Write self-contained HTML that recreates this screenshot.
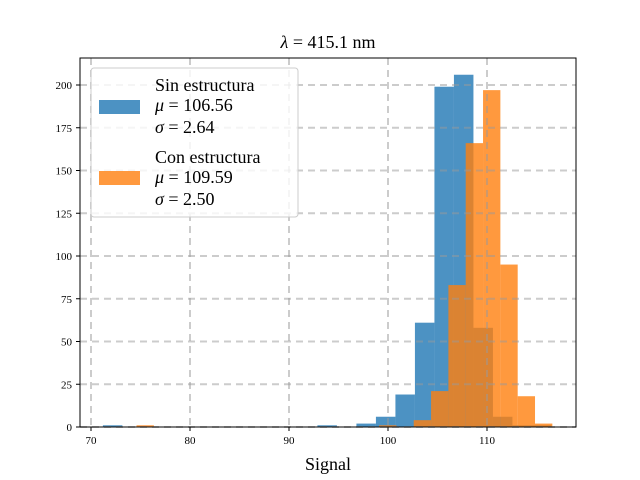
<!DOCTYPE html>
<html><head><meta charset="utf-8"><style>
body{margin:0;background:#fff}
svg{display:block;font-family:"Liberation Serif",serif}
</style></head><body>
<svg id="c" width="640" height="480"></svg>
<script>
const blueStart = 71.2, blueWidth = 1.97;
const blueCounts = [1,0,0,0,0,0,0,0,0,0,0,1,0,2,6,19,61,199,206,58,6,1,1];
const orangeStart = 74.6, orangeWidth = 1.75;
const orangeCounts = [1,0,0,0,0,0,0,0,0,0,0,0,0,0,1,0,4,21,83,166,197,95,18,2];
const xTicks = [70,80,90,100,110];
const yTicks = [0,25,50,75,100,125,150,175,200];
const L=80,R=576,T=58,B=427;
const X=v=>91+(v-70)*9.9;
const Y=v=>B-v*1.71;
const svg=document.getElementById('c');
const NS='http://www.w3.org/2000/svg';
function mk(t,a,p){const e=document.createElementNS(NS,t);for(const k in a)e.setAttribute(k,a[k]);(p||svg).appendChild(e);return e;}
function bars(start,w,counts,color,name){counts.forEach((c,i)=>{if(!c)return;const x0=X(start+i*w),x1=X(start+(i+1)*w);
const r=mk('rect',{x:x0,y:Y(c),width:x1-x0,height:B-Y(c),fill:color,'fill-opacity':0.8});
});}
bars(blueStart,blueWidth,blueCounts,'#1f77b4','bar-sin-estructura');
bars(orangeStart,orangeWidth,orangeCounts,'#ff7f0e','bar-con-estructura');
// grid on top
xTicks.forEach(v=>{const g=mk('line',{x1:X(v),x2:X(v),y1:T,y2:B,stroke:'#999','stroke-width':2,'stroke-dasharray':'7,5','stroke-opacity':0.5});
});
yTicks.forEach(v=>{const g=mk('line',{x1:L,x2:R,y1:Y(v),y2:Y(v),stroke:'#999','stroke-width':2,'stroke-dasharray':'7,5','stroke-opacity':0.5});
});
// axes
const ax=mk('rect',{x:L,y:T,width:R-L,height:B-T,fill:'none',stroke:'#000','stroke-width':1});

xTicks.forEach(v=>{mk('line',{x1:X(v),x2:X(v),y1:B,y2:B+4,stroke:'#000'});
const t=mk('text',{x:X(v),y:B+17,'text-anchor':'middle','font-size':11});t.textContent=v;
});
yTicks.forEach(v=>{mk('line',{x1:L-4,x2:L,y1:Y(v),y2:Y(v),stroke:'#000'});
const t=mk('text',{x:L-8,y:Y(v)+4,'text-anchor':'end','font-size':11});t.textContent=v;
});
</script>
<svg width="640" height="480" style="position:absolute;left:0;top:0;font-family:'Liberation Serif',serif">
<text x="328" y="48" text-anchor="middle" font-size="18"><tspan font-style="italic">λ</tspan> = 415.1 nm</text>
<text x="328" y="470" text-anchor="middle" font-size="18">Signal</text>
<g>
<rect x="91" y="68" width="207" height="149" rx="3" fill="#fff" fill-opacity="0.8" stroke="#ccc"/>
<rect x="99" y="100" width="41" height="14" fill="#1f77b4" fill-opacity="0.8"/>
<rect x="99" y="171" width="41" height="14" fill="#ff7f0e" fill-opacity="0.8"/>
<g font-size="18">
<text x="155" y="91">Sin estructura</text>
<text x="155" y="111"><tspan font-style="italic">μ</tspan> = 106.56</text>
<text x="155" y="133"><tspan font-style="italic">σ</tspan> = 2.64</text>
<text x="155" y="163">Con estructura</text>
<text x="155" y="183"><tspan font-style="italic">μ</tspan> = 109.59</text>
<text x="155" y="205"><tspan font-style="italic">σ</tspan> = 2.50</text>
</g></g>
</svg>
</body></html>
